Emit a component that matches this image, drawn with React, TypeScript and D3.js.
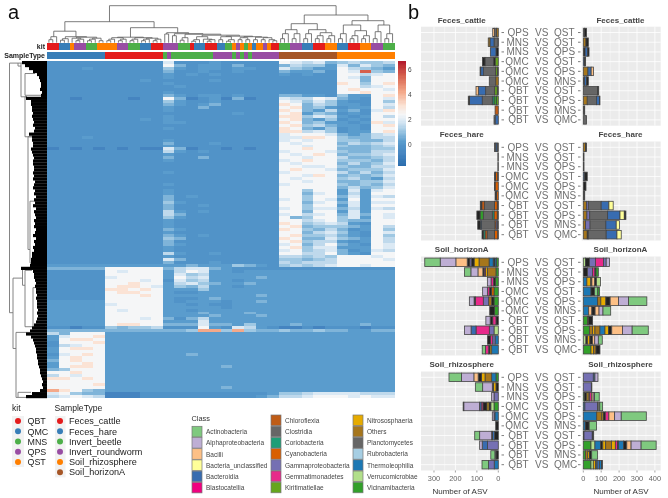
import React from "react";
import * as d3 from "d3";

const KIT_COLORS: Record<string, string> = { QBT: "#E41A1C", QMC: "#377EB8", MNS: "#4DAF4A", QPS: "#984EA3", QST: "#FF7F00" };
const TYPE_COLORS: Record<string, string> = {
  Feces_cattle: "#E41A1C", Feces_hare: "#377EB8", Invert_beetle: "#4DAF4A", Invert_roundworm: "#984EA3",
  Soil_rhizosphere: "#FF7F00", Soil_horizonA: "#A65628",
};
const kitRuns: [string, number][] = [
  ["QBT",3],["QMC",3],["QST",1],["QPS",3],["MNS",3],["QST",2],
  ["QST",3],["QPS",3],["MNS",3],["QMC",3],["QBT",3],
  ["QPS",4],["MNS",3],["QBT",1],["QMC",3],["QBT",3],["QMC",2],["MNS",2],["QST",1],["QPS",1],["QST",1],["MNS",1],["QST",1],["QMC",1],["QST",2],["QPS",1],["QST",1],["QBT",2],
  ["MNS",3],["QPS",3],["QMC",3],["QBT",3],["QST",3],
  ["QMC",3],["QBT",3],["QST",3],["QPS",3],["MNS",3],
];
const typeRuns: [string, number][] = [
  ["Feces_hare",15],["Feces_cattle",15],["Invert_beetle",1],["Invert_roundworm",1],["Invert_beetle",11],["Invert_roundworm",5],
  ["Invert_beetle",1],["Invert_roundworm",1],["Invert_beetle",1],["Invert_roundworm",1],["Invert_beetle",1],["Invert_roundworm",7],
  ["Soil_horizonA",15],["Soil_rhizosphere",15],
];

// heat levels by character
const heatLevels: Record<string, number> = { "0": -0.8, "1": -0.1, "2": 0.2, "3": 0.7, "4": 1.1, "5": 1.5, "6": 1.9, "7": 2.4, "8": 3.1, "9": 4.2, R: 5.5 };
const heatRows: string[] = [
"11111 11111 6111211111 76563 45445",
"11111 11111 7312213111 35442 63643",
"11121 11111 4212212211 64322 75432",
"11111 11111 3112112111 32231 76R43",
"11111 11111 2121211111 21211 77567",
"11111 11111 2111111111 11111 76377",
"11111 11121 1111211111 11111 77377",
"11111 11111 2111111111 11111 87478",
"11111 11111 1211111111 11111 77567",
"11111 11111 1111111111 11111 78776",
"11111 11111 2111111111 11111 77877",
"11111 11111 3212212111 33221 42278",
"11011 11011 7301203011 65576 32176",
"11111 11111 4211211111 76464 21174",
"11111 11111 3212311111 87354 22176",
"11111 11111 2113111111 78342 12275",
"11111 11111 2111111111 87325 23168",
"11111 11111 1111112111 78243 12177",
"11111 11111 2111111111 88465 21275",
"11111 11121 2111111111 78324 12177",
"11111 11111 2211111111 87342 21286",
"11111 11111 1111111111 78453 22178",
"11111 11111 2111111111 87324 12177",
"11111 11111 1111111111 88564 12278",
"11111 11111 1111111111 67776 32356",
"11121 11111 1111111111 66887 43355",
"11111 11111 2111111111 67677 44335",
"11111 11111 3111211111 76777 35456",
"11111 11111 2111111111 77677 43345",
"01010 10100 6301101011 77877 33344",
"11111 11111 5212111111 67776 43355",
"11111 11111 2111111111 76787 34456",
"11111 11111 3113111111 77677 53345",
"11111 11111 2111111111 67877 44435",
"11111 11111 1111111111 76777 35346",
"11111 11111 1111111111 77667 43355",
"11111 11111 1111111111 78776 34446",
"11111 11111 2111111111 67777 53535",
"11111 11111 1111111111 77687 34346",
"11111 11111 1111111111 76777 45325",
"11111 11111 1111111111 77677 33446",
"11111 11111 2111111111 67777 43435",
"11111 11111 1111111111 77777 35346",
"11111 11111 2111111111 77477 26267",
"11111 11111 2111111111 77367 25277",
"11111 11111 3121111111 77477 36265",
"11111 11111 3111111111 67476 27277",
"11111 11111 4211111111 77367 36266",
"11111 11111 3112111111 77477 26277",
"11111 11111 3111111111 67466 35265",
"11111 11111 5212111111 77377 26277",
"11111 11111 5311111111 67567 36376",
"11111 11111 4211111111 73477 46276",
"11111 11111 2111111111 77567 43377",
"11111 11111 2111111111 87456 52177",
"11111 11111 2111111111 78344 43275",
"11111 11111 3211111111 87435 31274",
"11111 11111 2111111111 77356 42176",
"11111 11111 3212111111 78445 32174",
"11111 11111 4311111111 87336 43275",
"11111 11111 3111111111 78455 21275",
"11111 11111 3211111111 67357 32176",
"11111 11111 2111111111 78466 22276",
"11111 11111 2111111111 67456 31265",
"11111 11111 5211211111 77557 32177",
"11111 11111 2111111111 55454 77767",
"11111 11111 6311111111 44345 77776",
"11111 11111 3111211111 54555 77777",
"22222 22222 2232224321 45456 77677",
"33333 77777 3566321111 11111 11111",
"11111 76777 2576221222 22222 22222",
"11111 77777 2645222222 22222 22222",
"11111 67777 2756222232 22222 22222",
"11111 77767 1645221222 22222 22222",
"11111 77877 2564322322 22222 22222",
"11111 78876 2435221222 22222 22222",
"11111 88787 2224222222 22222 22222",
"11111 78877 2112222222 22222 22222",
"11111 77787 2222222232 22222 22222",
"11111 77777 2112322222 22222 22222",
"22222 77777 2122212232 22222 22222",
"22222 67777 2212112222 22222 22222",
"22222 77777 2222212222 22222 22222",
"22222 76777 2212222222 22222 22222",
"22222 77777 2223222322 22222 22222",
"22222 77777 2222322232 22222 22222",
"22222 77767 3135222222 22222 22222",
"22222 77777 2226222222 22222 22222",
"22222 78877 3336332422 23222 22322",
"11011 43445 1117216521 00101 11011",
"33333 33333 3349949433 43343 32233",
"53777 22222 2222222222 22222 22222",
"26778 22222 2222222222 22222 22222",
"27887 22222 2222222222 22222 22222",
"17778 22222 2222222222 22222 22222",
"15677 22222 2222222222 22222 22222",
"27887 22222 2222222222 22222 22222",
"27777 22222 2222222222 22222 22222",
"16787 22222 2232222222 22222 22222",
"27877 22222 2222222222 22222 22222",
"37877 22222 2222222222 22222 22222",
"27787 22222 2222222222 22222 22222",
"27887 22222 2222232222 22222 22222",
"34777 22222 2222222222 22222 22222",
"77877 22222 2222222222 22222 22222",
"57677 22222 2222222222 22222 22222",
"88787 22222 2222222222 22222 22222",
"77777 22222 2222222222 22222 22222",
"77778 22222 2222222222 22222 22222",
"77777 22222 2222232222 22222 22222",
"98743 22222 2222222222 22222 22222",
"67433 00011 1111111112 44566 66555",
"56765 00011 1111111123 55677 76766",
];
// width of the dense black leaf mass of the row tree, per row
const rowMassDepth: number[] = [
  25,22,18,14,10,8,7,6,6,7,5,6,21,16,16,15,15,14,15,14,13,14,12,13,18,15,15,14,14,16,15,14,13,14,14,13,13,
  14,13,14,12,13,14,12,13,11,13,12,14,11,13,12,11,13,12,13,11,12,14,11,13,12,14,13,15,15,16,16,17,
  26,14,13,13,12,11,12,11,11,10,11,10,10,10,9,10,9,10,11,13,15,17,
  21,16,14,13,12,11,11,10,10,9,9,8,7,7,6,5,4,5,4,7,15,21,
];
// row tree brackets: [height, rowA, height of arm A, rowB, height of arm B]
const rowBrackets: [number, number, number, number, number][] = [
  [37.5, 0.7, 29, 84.4, 34],
  [34, 72.8, 24.5, 96.4, 31],
  [24.5, 69.8, 17, 75.2, 22],
  [31, 91, 17, 112.8, 29],
  [29, 111.1, 16, 112.8, 14],
  [29, 0.7, 26, 1.7, 26],
  [26, 0.7, 22, 12, 20],
  [22, 4.2, 12, 11.5, 5],
  [22, 12, 20, 25.4, 14],
  [19, 25.4, 15, 63.2, 17],
  [17, 47, 12, 67.7, 12],
  [22, 70.2, 15, 89.1, 2],
  [14, 76, 7, 89, 7],
];
type Node = number | [number, Node, Node];
const tri = (h: number, k: number): Node => [h, [k, 0, 0], 0];
const cattleTree: Node = [11.5, tri(6, 3), [6, tri(4, 2.5), [5.5, [4.5, 0, tri(3.5, 2)], [4.5, tri(3.5, 2), [2, 0, 0]]]]];
const hareTree: Node = [5.5, [5, tri(3.5, 2), tri(3.5, 2)], [5, tri(3.5, 2), [4.5, tri(3.5, 2), tri(3.5, 2)]]];
const invertTree: Node = [10, [8.7, 0, 0], [9, [7, 0, 0], [8.5, tri(5, 2.5), [7.5,
  [6, tri(3, 1.5), [3.5, 0, tri(3, 1.5)]],
  [6.5, [6, [3, 0, 0], tri(3, 1.5)], [6, [5, [3, 0, 0], [3, 0, 0]], [5.5, [3, 0, 0], [5, [3, 0, 0], [3, 0, [2, 0, 0]]]]]],
]]]];
const horizonTree: Node = [19, [13, tri(9, 4), tri(9, 4)], [13, tri(9, 4), [10, tri(7, 4), tri(7, 4)]]];
const rhizoTree: Node = [22, [17.7, tri(9, 4), [12, tri(7, 4), tri(7, 4)]], [17.7, tri(11, 4), tri(9, 4)]];
const colTree: Node = [37, [21, cattleTree, [15, hareTree, invertTree]], [27.7, horizonTree, rhizoTree]];

const colorbarTicks = [6, 4, 2, 0];
const heatDomain = [-1.7, -0.8, -0.1, 0.2, 0.7, 1.1, 1.5, 1.9, 2.4, 3.1, 4.2, 5.5, 6.7];
const heatRange = ["#2b6cad", "#4484c0", "#5193c8", "#5a9ccd", "#7fb4d9", "#9fc8e3", "#bfd9ec", "#dbe9f4", "#f5f6f7", "#fbe3d5", "#f4a98a", "#d6604d", "#b2182b"];

const classNames: [string, string, string][] = [
  ["AC", "Actinobacteria", "#7FC97F"], ["AL", "Alphaproteobacteria", "#BEAED4"], ["BC", "Bacilli", "#FDC086"],
  ["BU", "Bacteria_unclassified", "#FFFF99"], ["BD", "Bacteroidia", "#386CB0"], ["BL", "Blastocatellia", "#F0027F"],
  ["CF", "Chloroflexia", "#BF5B17"], ["CL", "Clostridia", "#666666"], ["CO", "Coriobacteria", "#1B9E77"],
  ["CY", "Cyanobacteria", "#D95F02"], ["GA", "Gammaproteobacteria", "#7570B3"], ["GE", "Gemmatimonadetes", "#E7298A"],
  ["KI", "Kiritimatiellae", "#66A61E"], ["NI", "Nitrososphaeria", "#E6AB02"], ["OT", "Others", "#A6761D"],
  ["PL", "Planctomycetes", "#666666"], ["RU", "Rubrobacteria", "#A6CEE3"], ["TH", "Thermoleophilia", "#1F78B4"],
  ["VE", "Verrucomicrobiae", "#B2DF8A"], ["VI", "Vicinamibacteria", "#33A02C"],
];
const classColor = Object.fromEntries(classNames.map((c) => [c[0], c[2]]));
const DK = "#222222";

const pairs: [string, string][] = [
  ["QPS","QST"],["MNS","QST"],["MNS","QPS"],["QMC","QST"],["QMC","QPS"],["QMC","MNS"],["QBT","QST"],["QBT","QPS"],["QBT","MNS"],["QBT","QMC"],
];
// each string lists a stack from zero outwards: class + number of ASV
const cattleLeft = ["OT8 PL10 BC8","DK2 PL18 BD19 OT8","DK11 BD26","KI15 DK8 PL39 DK12","DK5 KI8 PL57 BD12 DK3","OT12 PL30","DK5 KI12 PL42 BD34 BC11","KI8 VI12 CO8 PL47 BD59 DK6","CF15","BD15 PL5"];
const cattleRight = ["PL6 DK12","OT15 DK13","DK10 BD14 DK8","BD6 DK7","OT26 BD18 BC13","DK6 BD12 DK10","PL80 DK6","OT22 PL52 BD16 DK3","DK8","PL18"];
const hareLeft = ["PL6 BD6 PL6","DK2","DK2","DK3 CY10 DK5","CY15 DK3","CY8 DK7","DK3 BD2 CY13 PL47 CF12 DK7","DK5 CY15 CO8 PL42 VI15 DK15","DK5 GA6 CY5 PL62 BD6 DK12","DK3 CY15 PL34 CF10 CO7 DK7"];
const hareRight = ["OT12 DK6","DK4","DK4","BD8 DK14","DK15","DK8","OT18 GA10 PL72 BD43 BU24","OT20 GA16 PL100 BD69 BU24 DK9","OT12 GA26 PL88 BD58 BU18","OT22 DK6 PL100 BD60 BU24"];
const horizonLeft = ["VI8 TH8 DK8 TH19 OT47 NI23 DK12 GA8 DK12 BC53 AL73 AC72","VI11 OT40 NI9 GE6 DK6 BC23 AL33 AC30","VI14 DK9 GE11 AL17","VI20 CY11 DK11 GE9 AL22","VI20 DK11 OT14 GA25 GE37 DK6 AL22","VI18 DK22","DK11 GE15 DK12 AL20","VE20 GA22 GE62 BD23 AL31","TH15 GA11 GE11 DK13","TH31 NI8 DK6 GE15 AC15"];
const horizonRight = ["VE12 DK22 GA34 GE45 GA15 AL18","DK24 GA28 GE13 DK6 VI13","TH20 NI22 DK6 BC16 DK10 VE22","TH43 DK20 AC18 VI9","TH80 OT18 NI28 DK24 BC47 AL56 AC102","TH30 BC18 DK18 BC22 AL22 AC43","VI24 OT6 DK22","VI34 OT18 NI13 OT28 TH28 NI20 DK18 BC60 AL54 AC90","VE15 DK9 NI13 DK14 BC13 AL20 AC22","VI43 NI15 OT13 DK22"];
const rhizoLeft = ["VI11 TH20 OT31 NI16 DK16 BC20 AL58 AC58","DK11 NI12 DK5 AL45 AC34","GA20 AL11","VI20 VE15 DK9 NI9 DK19 GE8 BD8 AL73 DK3","TH16 GA4 AL8","DK12","DK18 BD9 DK4 AL56 AC23","GA50 BD25 AL12","DK11 CL5 AC19","TH19 GA27 AC30"];
const rhizoRight = ["GA56 BD9 AL17","GA45 DK3","VI6 DK13 NI8 OT8 GE10 BC10 AL8 AC26","TH9 GA70 PL13 AC16","TH75 OT28 NI8 DK12 GE20 BC32 AL37 AC140","TH11 DK22 AC41","DK4 GA46 DK8","VI43 VE22 TH32 DK12 NI16 OT32 NI22 GE12 DK6 TH28 DK18 BC24 AL56 AC84","VI12 OT13 NI10 DK12 AC33","VI43 VE13 NI13 PL8 BD13 TH12 DK5"];
const panels = [
  { title: "Feces_cattle", left: cattleLeft, right: cattleRight },
  { title: "Feces_hare", left: hareLeft, right: hareRight },
  { title: "Soil_horizonA", left: horizonLeft, right: horizonRight },
  { title: "Soil_rhizosphere", left: rhizoLeft, right: rhizoRight },
];
const leftTicks = [300, 200, 100, 0];
const rightTicks = [0, 100, 200, 300, 400];

const FONT = "'Liberation Sans', Arial, sans-serif";
const HM = { x0: 47, x1: 394.5, y0: 61, y1: 398 };
const PY = [26.7, 141.5, 256.5, 371.5];
const PH = 99;
const LEFT = { x0: 421, x1: 499.3, zero: 498.3, per: 0.2144 };
const RIGHT = { x0: 581.7, x1: 660.7, zero: 583.3, per: 0.179 };

function expand(runs: [string, number][]) {
  return runs.flatMap(([k, n]) => d3.range(n).map(() => k));
}

function ColDendro({ x }: { x: d3.ScaleBand<string> }) {
  const root = d3.hierarchy<Node>(colTree, (d) => (Array.isArray(d) ? [d[1], d[2]] : null));
  const yScale = d3.scaleLinear().domain([0, 37]).range([42.7, 5.7]);
  const leaves = root.leaves();
  const pos = new Map<any, { x: number; h: number }>();
  leaves.forEach((l, i) => pos.set(l, { x: x(String(i))! + x.bandwidth() / 2, h: 0 }));
  const p = d3.path();
  root.eachAfter((n) => {
    if (!n.children) return;
    const [a, b] = n.children;
    const h = (n.data as [number, Node, Node])[0];
    const pa = pos.get(a)!, pb = pos.get(b)!;
    pos.set(n, { x: (pa.x + pb.x) / 2, h });
    p.moveTo(pa.x, yScale(pa.h));
    p.lineTo(pa.x, yScale(h));
    p.lineTo(pb.x, yScale(h));
    p.lineTo(pb.x, yScale(pb.h));
  });
  return <path d={p.toString()} fill="none" stroke="#5a5a5a" strokeWidth={0.8} />;
}

function RowDendro({ y }: { y: d3.ScaleBand<string> }) {
  const xs = d3.scaleLinear().domain([0, 38]).range([47, 9]);
  const ys = (r: number) => y("0")! + r * y.step();
  const p = d3.path();
  rowBrackets.forEach(([h, ra, ha, rb, hb]) => {
    p.moveTo(xs(ha), ys(ra));
    p.lineTo(xs(h), ys(ra));
    p.lineTo(xs(h), ys(rb));
    p.lineTo(xs(hb), ys(rb));
  });
  return (
    <g>
      <path d={p.toString()} fill="none" stroke="#777" strokeWidth={0.9} />
      {rowMassDepth.map((d, i) => (
        <rect key={i} x={47 - d} y={y(String(i))} width={d} height={y.bandwidth() + 0.2} fill="#000" />
      ))}
    </g>
  );
}

function Heatmap({ x, y, color }: { x: d3.ScaleBand<string>; y: d3.ScaleBand<string>; color: (v: number) => string }) {
  const bw = x.bandwidth() * 3;
  return (
    <g shapeRendering="crispEdges">
      {heatRows.map((row, r) =>
        row.replace(/ /g, "").split("").map((c, j) => (
          <rect key={r + "-" + j} x={x(String(j * 3))} y={y(String(r))} width={bw + 0.4} height={y.bandwidth() + 0.4} fill={color(heatLevels[c])} />
        ))
      )}
    </g>
  );
}

function Stack({ spec, s, cy, h }: { spec: string; s: d3.ScaleLinear<number, number>; cy: number; h: number }) {
  const parts = spec.split(" ").map((t) => ({ k: t.slice(0, 2), v: +t.slice(2) }));
  let cum = 0;
  return (
    <g>
      {parts.map((q, i) => {
        const a = s(cum), b = s(cum + q.v);
        cum += q.v;
        return (
          <rect key={i} x={Math.min(a, b)} y={cy - h / 2} width={Math.abs(b - a)} height={h}
            fill={q.k === "DK" ? DK : classColor[q.k]} stroke="#444" strokeWidth={0.8} />
        );
      })}
    </g>
  );
}

function Panel({ yTop, side, specs, showAxis }: { yTop: number; side: "l" | "r"; specs: string[]; showAxis: boolean }) {
  const g = side === "l" ? LEFT : RIGHT;
  const s = d3.scaleLinear().domain([0, 100]).range(side === "l" ? [g.zero, g.zero - 100 * g.per] : [g.zero, g.zero + 100 * g.per]);
  const y = d3.scalePoint<string>().domain(pairs.map((q) => q.join(" "))).range([yTop, yTop + PH]).padding(0.6);
  const ticks = side === "l" ? leftTicks : rightTicks;
  const minor = ticks.slice(0, -1).map((t, i) => (t + ticks[i + 1]) / 2);
  return (
    <g>
      <rect x={g.x0} y={yTop} width={g.x1 - g.x0} height={PH} fill="#EBEBEB" />
      {minor.map((t) => <line key={t} x1={s(t)} x2={s(t)} y1={yTop} y2={yTop + PH} stroke="#fff" strokeWidth={0.4} />)}
      {ticks.map((t) => <line key={t} x1={s(t)} x2={s(t)} y1={yTop} y2={yTop + PH} stroke="#fff" strokeWidth={0.8} />)}
      {pairs.map((q) => <line key={q.join()} x1={g.x0} x2={g.x1} y1={y(q.join(" "))} y2={y(q.join(" "))} stroke="#fff" strokeWidth={0.8} />)}
      {specs.map((sp, i) => <Stack key={i} spec={sp} s={s} cy={y(pairs[i].join(" "))!} h={y.step() * 0.88} />)}
      {showAxis && ticks.map((t) => (
        <g key={t}>
          <line x1={s(t)} x2={s(t)} y1={yTop + PH} y2={yTop + PH + 2} stroke="#666" strokeWidth={0.6} />
          <text x={s(t)} y={yTop + PH + 10.5} textAnchor="middle" fontSize={7.4} fill="#666" fontFamily={FONT}>{t}</text>
        </g>
      ))}
    </g>
  );
}

function CenterLabels({ yTop }: { yTop: number }) {
  const y = d3.scalePoint<string>().domain(pairs.map((q) => q.join(" "))).range([yTop, yTop + PH]).padding(0.6);
  const fs = { fontSize: 10, fill: "#707070", fontFamily: FONT };
  return (
    <g>
      {pairs.map((q) => {
        const cy = y(q.join(" "))! + 3.5;
        return (
          <g key={q.join()}>
            <line x1={501.5} x2={504} y1={cy - 3.5} y2={cy - 3.5} stroke="#707070" strokeWidth={0.9} />
            <line x1={578} x2={580.5} y1={cy - 3.5} y2={cy - 3.5} stroke="#707070" strokeWidth={0.9} />
            <text x={528.7} y={cy} textAnchor="end" {...fs}>{q[0]}</text>
            <text x={541.7} y={cy} textAnchor="middle" {...fs}>VS</text>
            <text x={554} y={cy} textAnchor="start" {...fs}>{q[1]}</text>
          </g>
        );
      })}
    </g>
  );
}

export default function App() {
  const samples = d3.range(90).map(String);
  const x = d3.scaleBand<string>().domain(samples).range([HM.x0, HM.x1]);
  const y = d3.scaleBand<string>().domain(heatRows.map((_, i) => String(i))).range([HM.y0, HM.y1]);
  const color = d3.scaleLinear<string>().domain(heatDomain).range(heatRange).clamp(true);
  const kits = expand(kitRuns), types = expand(typeRuns);
  const cbY = d3.scaleLinear().domain([-1.7, 6.7]).range([166, 61]);
  const cbVals = d3.range(-1.7, 6.7, 0.1);
  const kitNames = Object.keys(KIT_COLORS), typeNames = Object.keys(TYPE_COLORS);
  const kitLegY = d3.scaleBand<string>().domain(kitNames).range([416, 467]);
  const typeLegY = d3.scaleBand<string>().domain(typeNames).range([416, 477.4]);
  const col1 = classNames.slice(0, 6), col2 = classNames.slice(6, 13), col3 = classNames.slice(13);
  const KEY = 11.2;
  const classCols: [typeof classNames, number, number][] = [[col1, 192, 426.3], [col2, 271, 415], [col3, 353, 415]];
  return (
    <svg width={668} height={498} viewBox="0 0 668 498" style={{ position: "absolute", left: 0, top: 0, display: "block", background: "#fff" }}>
      <defs>
        <filter id="soft" filterUnits="userSpaceOnUse" x={0} y={0} width={668} height={498}>
          <feGaussianBlur stdDeviation={0.45} />
        </filter>
      </defs>
      <g filter="url(#soft)" fontFamily={FONT}>
        <text x={8} y={18.5} fontSize={20} fill="#111">a</text>
        <text x={408} y={18.5} fontSize={20} fill="#111">b</text>

        <ColDendro x={x} />
        <text x={45} y={49} textAnchor="end" fontSize={7} fontWeight="bold" fill="#222">kit</text>
        <text x={45} y={58} textAnchor="end" fontSize={7} fontWeight="bold" fill="#222">SampleType</text>
        <g shapeRendering="crispEdges">
          {kits.map((k, i) => <rect key={i} x={x(String(i))} y={43.3} width={x.bandwidth() + 0.3} height={6.7} fill={KIT_COLORS[k]} />)}
          {types.map((k, i) => <rect key={i} x={x(String(i))} y={52} width={x.bandwidth() + 0.3} height={6.7} fill={TYPE_COLORS[k]} />)}
        </g>
        <Heatmap x={x} y={y} color={color} />
        <RowDendro y={y} />

        <g shapeRendering="crispEdges">
          {cbVals.map((v) => <rect key={v} x={398} y={cbY(v + 0.1)} width={7.5} height={cbY(v) - cbY(v + 0.1) + 0.4} fill={color(v)} />)}
        </g>
        {colorbarTicks.map((t) => <text key={t} x={408} y={cbY(t) + 2.5} fontSize={6.5} fill="#444">{t}</text>)}

        <text x={12} y={411} fontSize={8.6} fill="#222">kit</text>
        <rect x={12} y={416} width={12} height={51} fill="#f2f2f2" />
        {kitNames.map((k) => (
          <g key={k}>
            <circle cx={18} cy={kitLegY(k)! + kitLegY.bandwidth() / 2} r={3} fill={KIT_COLORS[k]} />
            <text x={27.5} y={kitLegY(k)! + kitLegY.bandwidth() / 2 + 3.2} fontSize={8.9} fill="#222">{k}</text>
          </g>
        ))}
        <text x={54.5} y={411} fontSize={8.6} fill="#222">SampleType</text>
        <rect x={55} y={416} width={10.5} height={61.4} fill="#f2f2f2" />
        {typeNames.map((k) => (
          <g key={k}>
            <circle cx={60} cy={typeLegY(k)! + typeLegY.bandwidth() / 2} r={3} fill={TYPE_COLORS[k]} />
            <text x={69} y={typeLegY(k)! + typeLegY.bandwidth() / 2 + 3.2} fontSize={9.1} fill="#222">{k}</text>
          </g>
        ))}

        <text x={191.5} y={421} fontSize={7.4} fill="#333">Class</text>
        {classCols.map(([items, cx, cy]) => items.map((c, i) => (
          <g key={c[0]}>
            <rect x={cx} y={cy + i * KEY} width={10} height={KEY - 0.6} fill={c[2]} stroke="#777" strokeWidth={0.7} />
            <text x={cx + 14} y={cy + i * KEY + 7.8} fontSize={6.5} fill="#444">{c[1]}</text>
          </g>
        )))}

        {panels.map((p, i) => (
          <g key={p.title}>
            <text x={461.7} y={PY[i] - 4.2} textAnchor="middle" fontSize={8} fontWeight="bold" fill="#444">{p.title}</text>
            <text x={620.5} y={PY[i] - 4.2} textAnchor="middle" fontSize={8} fontWeight="bold" fill="#444">{p.title}</text>
            <Panel yTop={PY[i]} side="l" specs={p.left} showAxis={i === 3} />
            <Panel yTop={PY[i]} side="r" specs={p.right} showAxis={i === 3} />
            <CenterLabels yTop={PY[i]} />
          </g>
        ))}
        <text x={460} y={493.5} textAnchor="middle" fontSize={8} fill="#333">Number of ASV</text>
        <text x={621} y={493.5} textAnchor="middle" fontSize={8} fill="#333">Number of ASV</text>
      </g>
    </svg>
  );
}
